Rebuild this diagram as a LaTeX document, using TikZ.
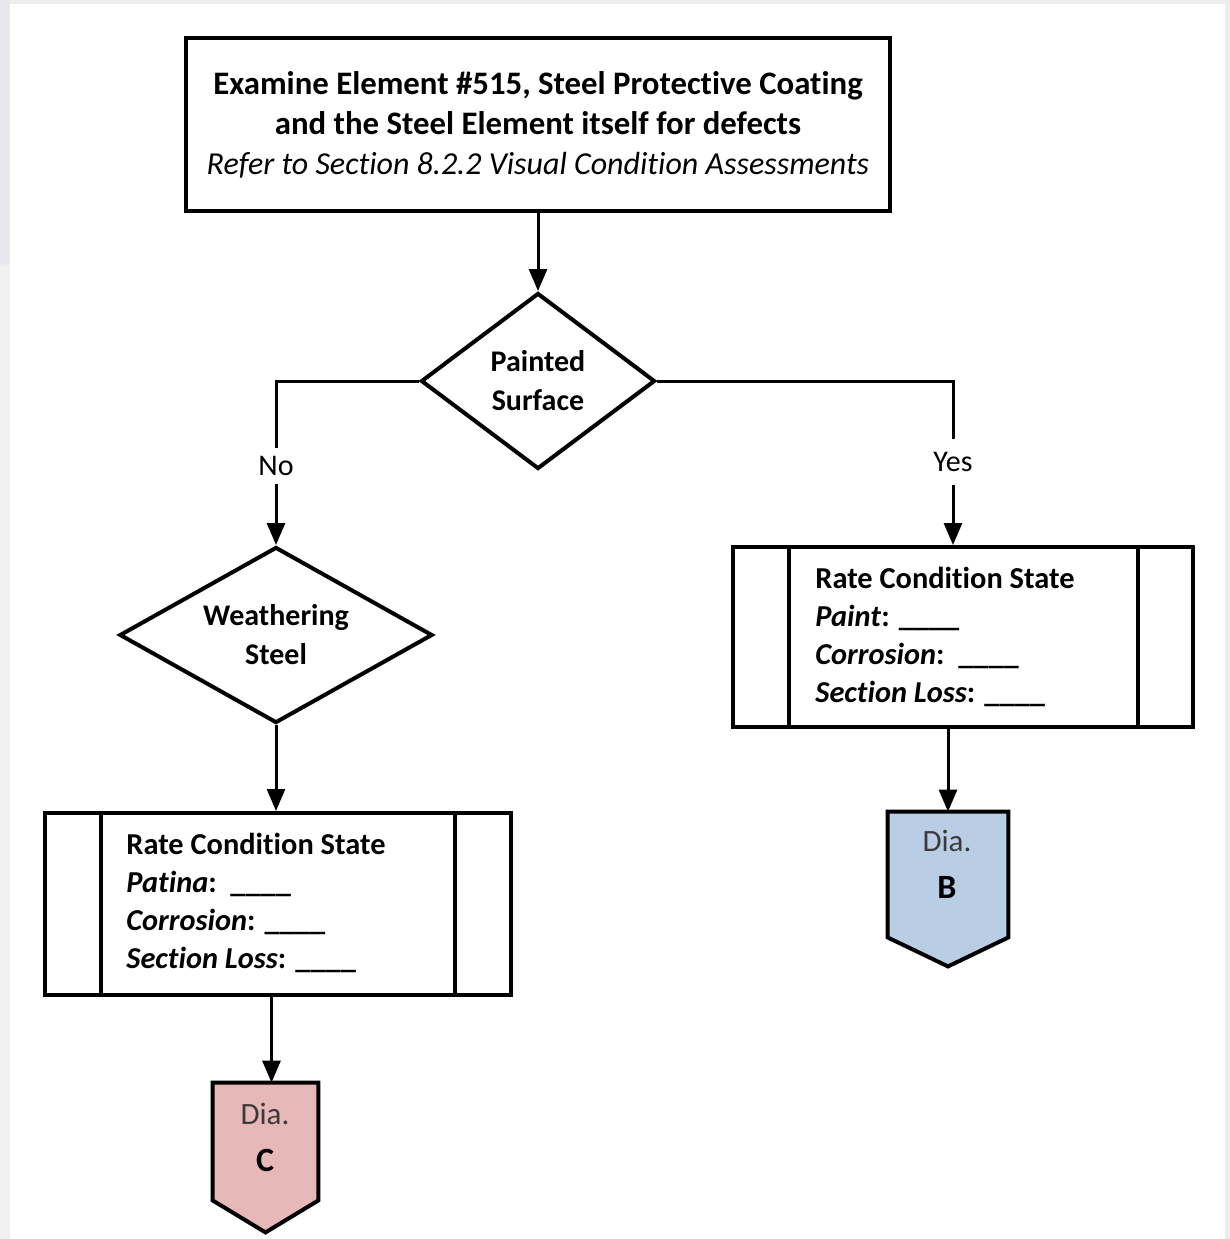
\documentclass[tikz,border=0pt]{standalone}
\usepackage{fontspec}
\setmainfont{Carlito}[Ligatures=NoCommon]
\usetikzlibrary{shapes.geometric,arrows.meta,calc}
\definecolor{pinkC}{HTML}{E6B8B7}
\definecolor{blueB}{HTML}{B9CDE4}
\definecolor{bgA}{HTML}{E6E8EB}
\definecolor{bgB}{HTML}{F0F1F3}
\definecolor{bgC}{HTML}{EDEDED}
\definecolor{diagray}{HTML}{3A3A3A}
\begin{document}
\begin{tikzpicture}[x=0.5pt,y=-0.5pt,
  box/.style={draw,line width=2pt,inner sep=0pt},
  dec/.style={draw,shape=diamond,line width=2pt,inner sep=0pt,align=center,
    font=\fontsize{15}{19.5}\selectfont\bfseries},
  arr/.style={line width=1.5pt,-{Triangle[length=11pt,width=9pt]}},
  conn/.style={line width=1.5pt},
  lbl/.style={fill=white,inner sep=0pt,font=\fontsize{15}{18}\selectfont},
  txt/.style={align=left,inner sep=0pt,font=\fontsize{15.2}{19}\selectfont\bfseries},
  offp/.style={inner sep=0pt},
  offpath/.style={draw,line width=2pt,line join=miter},
  offtxt/.style={align=center,inner sep=0pt,font=\fontsize{15.5}{23.5}\selectfont}
]
\useasboundingbox (0,0) rectangle (1230,1239);
% background
\fill[bgC] (0,0) rectangle (1230,1239);
\fill[bgA] (0,0) rectangle (10,264);
\fill[bgB] (0,266) rectangle (10,1239);
\fill[white] (10,4) rectangle (1225,1239);

% top box
\node[box,minimum width=352pt,minimum height=86.5pt,align=center,
  font=\fontsize{16.4}{20}\selectfont] (top) at (538,124.5)
  {\textbf{Examine Element \#515, Steel Protective Coating}\\
   \textbf{and the Steel Element itself for defects}\\
   {\fontsize{16}{20}\selectfont\itshape Refer to Section 8.2.2 Visual Condition Assessments}};

% decisions
\node[dec,aspect=1.33,minimum width=117pt,minimum height=88pt] (paint) at (538,381) {Painted\\Surface};
\node[dec,aspect=1.78,minimum width=156.5pt,minimum height=88pt] (weath) at (276,635) {Weathering\\Steel};

% right process box
\node[box,minimum width=230pt,minimum height=90pt] (rbox) at (963,637) {};
\draw[line width=2pt] ([xshift=29pt]rbox.north west) -- ([xshift=29pt]rbox.south west);
\draw[line width=2pt] ([xshift=-28.5pt]rbox.north east) -- ([xshift=-28.5pt]rbox.south east);
\node[txt,anchor=west] (rtxt) at (815,637)
  {Rate Condition State\\
   \textit{Paint}: \_\_\_\_\\
   \textit{Corrosion}:\ \ \_\_\_\_\\
   \textit{Section Loss}: \_\_\_\_};

% left process box
\node[box,minimum width=233pt,minimum height=91pt] (lbox) at (278,904) {};
\draw[line width=2pt] ([xshift=29pt]lbox.north west) -- ([xshift=29pt]lbox.south west);
\draw[line width=2pt] ([xshift=-29pt]lbox.north east) -- ([xshift=-29pt]lbox.south east);
\node[txt,anchor=west] (ltxt) at (126,903)
  {Rate Condition State\\
   \textit{Patina}:\ \ \_\_\_\_\\
   \textit{Corrosion}: \_\_\_\_\\
   \textit{Section Loss}: \_\_\_\_};

% off-page connector B
\node[offp,minimum width=60pt,minimum height=62.5pt] (B) at (948,874.5) {};
\draw[offpath,fill=blueB] (B.north west) -- (B.north east) -- (B.south east)
  -- ([yshift=-14.5pt]B.south) -- (B.south west) -- cycle;
\node[offtxt] (Btxt) at (947,864) {\textcolor{diagray}{Dia.}\\\textbf{\fontsize{17}{23.5}\selectfont B}};

% off-page connector C
\node[offp,minimum width=52.5pt,minimum height=58.5pt] (C) at (265.5,1141.5) {};
\draw[offpath,fill=pinkC] (C.north west) -- (C.north east) -- (C.south east)
  -- ([yshift=-16pt]C.south) -- (C.south west) -- cycle;
\node[offtxt] (Ctxt) at (265,1137) {\textcolor{diagray}{Dia.}\\\textbf{\fontsize{17}{23.5}\selectfont C}};

% labels
\node[lbl,minimum height=18pt] (no) at (276,466) {No};
\node[lbl,minimum height=23pt] (yes) at (953,462) {Yes};

% connectors
\draw[arr] (top.south) -- (paint.north);
\draw[conn] (paint.west) -| (no.north);
\draw[arr] (no.south) -- (weath.north);
\draw[conn] (paint.east) -| (yes.north);
\draw[arr] (yes.south) -- (yes.south |- rbox.north);
\draw[arr] (weath.south) -- (weath.south |- lbox.north);
\draw[arr] (rbox.south -| B.north) -- (B.north);
\draw[arr] ([xshift=3pt]C.north |- lbox.south) -- ([xshift=3pt]C.north);
\end{tikzpicture}
\end{document}
